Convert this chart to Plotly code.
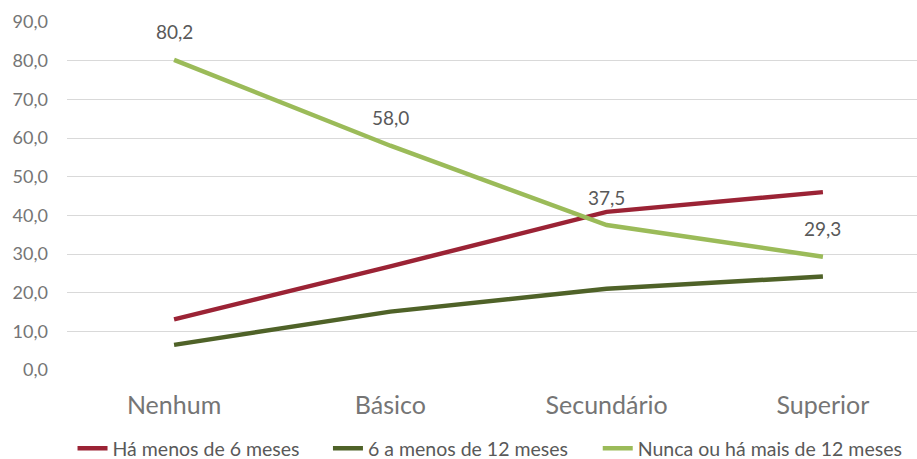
import plotly.graph_objects as go

categories = ["Nenhum", "Básico", "Secundário", "Superior"]
serie_menos6 = [13.1, 26.8, 40.9, 46.0]
serie_6a12 = [6.5, 15.1, 21.0, 24.2]
serie_nunca = [80.2, 58.0, 37.5, 29.3]
names = ["Há menos de 6 meses", "6 a menos de 12 meses", "Nunca ou há mais de 12 meses"]
colors = ["#9B2335", "#4F6228", "#9BBB59"]
y_ticks = [0, 10, 20, 30, 40, 50, 60, 70, 80, 90]

FONT = "Lato, 'Open Sans', sans-serif"
legend_ids = ["legend", "legend2", "legend3"]
legend_x = [0.0065, 0.307, 0.6244]

fig = go.Figure()
for vals, name, col, lid in zip([serie_menos6, serie_6a12, serie_nunca], names, colors, legend_ids):
    fig.add_trace(go.Scatter(
        x=categories, y=vals, name=name, mode="lines",
        line=dict(color=col, width=4.5), legend=lid,
    ))

for c, v in zip(categories, serie_nunca):
    fig.add_annotation(
        x=c, y=v, text=f"{v:.1f}".replace(".", ","), showarrow=False,
        yshift=28, font=dict(size=19, color="#595959", family=FONT),
    )

legend_common = dict(
    orientation="h", xanchor="left", y=-0.226, yanchor="middle",
    font=dict(size=19.5, color="#595959", family=FONT),
    bgcolor="rgba(0,0,0,0)", borderwidth=0,
)

fig.update_layout(
    width=917, height=459,
    margin=dict(l=67, r=0, t=22, b=89, autoexpand=False),
    paper_bgcolor="white", plot_bgcolor="white",
    separators=",.",
    font=dict(family=FONT, color="#757575"),
    showlegend=True,
    legend=dict(x=legend_x[0], **legend_common),
    legend2=dict(x=legend_x[1], **legend_common),
    legend3=dict(x=legend_x[2], **legend_common),
    xaxis=dict(
        range=[-0.495, 3.435], showgrid=False, zeroline=False, showline=False,
        tickfont=dict(size=25, color="#757575"), ticks="", ticklabelstandoff=18,
        automargin=False,
    ),
    yaxis=dict(
        range=[0, 90], tickvals=y_ticks, tickformat=".1f",
        showgrid=True, gridcolor="#D9D9D9", gridwidth=1.3,
        zeroline=False, showline=False, ticks="",
        tickfont=dict(size=18, color="#757575"), ticklabelstandoff=18,
        automargin=False,
    ),
)

fig.write_html(
    "out.html",
    config={"displayModeBar": False},
    post_script="document.body.style.margin='0';document.body.style.overflow='hidden';",
)
